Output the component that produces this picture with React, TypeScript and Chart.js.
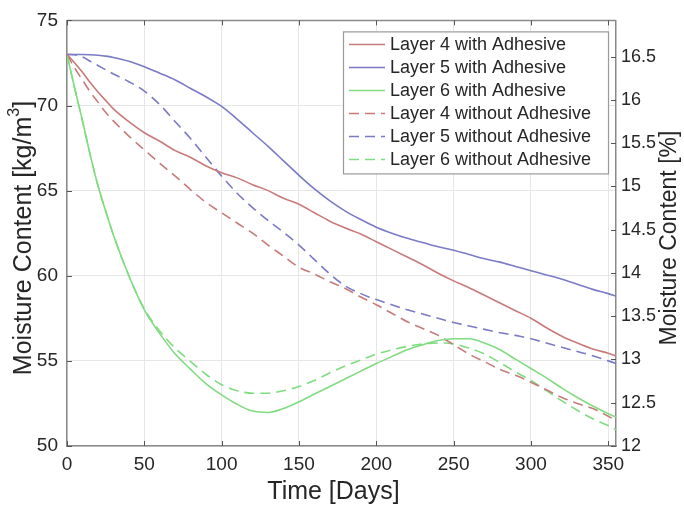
import React, { useEffect, useRef } from 'react';
import { Chart, registerables } from 'chart.js';

Chart.register(...registerables);

// ---- data ----
const days = [0, 5, 10, 15, 20, 25, 30, 40, 50, 60, 70, 80, 90, 100, 110, 120, 130, 140, 150, 160, 170, 180, 190, 200, 210, 220, 230, 240, 250, 260, 270, 280, 290, 300, 310, 320, 330, 340, 350, 355];

const layer4With = [73.0, 72.5, 71.95, 71.35, 70.8, 70.3, 69.8, 69.05, 68.4, 67.9, 67.35, 66.95, 66.45, 66.05, 65.75, 65.35, 65.0, 64.55, 64.2, 63.7, 63.2, 62.8, 62.45, 62.0, 61.55, 61.1, 60.65, 60.15, 59.7, 59.3, 58.85, 58.4, 57.95, 57.5, 56.95, 56.45, 56.05, 55.7, 55.45, 55.3];
const layer5With = [73.0, 73.0, 73.0, 72.98, 72.95, 72.9, 72.82, 72.6, 72.28, 71.9, 71.5, 71.0, 70.5, 69.95, 69.2, 68.4, 67.6, 66.75, 65.9, 65.1, 64.4, 63.8, 63.3, 62.85, 62.5, 62.2, 61.95, 61.7, 61.5, 61.25, 61.0, 60.8, 60.55, 60.3, 60.05, 59.8, 59.5, 59.2, 58.95, 58.8];
const layer6With = [73.0, 71.0, 69.1, 67.1, 65.3, 63.8, 62.4, 60.0, 58.0, 56.6, 55.4, 54.5, 53.65, 53.0, 52.45, 52.05, 51.97, 52.2, 52.6, 53.05, 53.5, 53.95, 54.4, 54.85, 55.25, 55.65, 55.95, 56.2, 56.3, 56.3, 56.05, 55.65, 55.1, 54.55, 54.0, 53.4, 52.85, 52.35, 51.9, 51.7];
const layer4Without = [73.0, 72.2, 71.5, 70.8, 70.2, 69.6, 69.1, 68.2, 67.4, 66.6, 65.85, 65.05, 64.3, 63.7, 63.1, 62.5, 61.8, 61.15, 60.5, 60.1, 59.65, 59.25, 58.75, 58.3, 57.8, 57.3, 56.9, 56.5, 55.95, 55.4, 54.95, 54.5, 54.15, 53.75, 53.3, 52.85, 52.5, 52.2, 51.75, 51.5];
const layer5Without = [73.0, 72.98, 72.85, 72.6, 72.35, 72.1, 71.85, 71.4, 70.85, 70.05, 69.05, 68.05, 66.95, 65.85, 64.85, 64.0, 63.25, 62.55, 61.8, 60.95, 60.1, 59.4, 58.95, 58.6, 58.3, 58.0, 57.75, 57.5, 57.25, 57.05, 56.85, 56.65, 56.5, 56.3, 56.05, 55.8, 55.55, 55.3, 55.0, 54.85];
const layer6Without = [73.0, 71.0, 69.1, 67.1, 65.3, 63.8, 62.4, 60.0, 58.05, 56.75, 55.75, 54.95, 54.2, 53.6, 53.25, 53.1, 53.1, 53.25, 53.5, 53.85, 54.3, 54.7, 55.05, 55.4, 55.65, 55.85, 56.0, 56.05, 56.0, 55.75, 55.4, 54.9, 54.35, 53.85, 53.25, 52.65, 52.1, 51.6, 51.2, 50.95];

const seriesLabels = [
  'Layer 4 with Adhesive',
  'Layer 5 with Adhesive',
  'Layer 6 with Adhesive',
  'Layer 4 without Adhesive',
  'Layer 5 without Adhesive',
  'Layer 6 without Adhesive',
];

const xTitle = 'Time [Days]';
const yLeftTitle = ['Moisture Content [kg/m', '3', ']'];
const yRightTitle = 'Moisture Content [%]';

// ---- style ----
const RED = '#c97a7a';
const BLUE = '#7a7ac6';
const GREEN = '#80dc80';
const AXIS = '#8a8a8a';
const GRID = '#e6e6e6';
const TEXT = '#262626';
const FONT = '"Liberation Sans", Arial, Helvetica, sans-serif';
const DASH = [10, 6];

const seriesValues = [layer4With, layer5With, layer6With, layer4Without, layer5Without, layer6Without];
const seriesColors = [RED, BLUE, GREEN, RED, BLUE, GREEN];
const seriesDashed = [false, false, false, true, true, true];

const decorPlugin = {
  id: 'decor',
  afterDatasetsDraw(chart: any) {
    const { ctx, chartArea: a } = chart;
    const xs = chart.scales.x;
    const ys = chart.scales.y;
    const y2 = chart.scales.y2;
    ctx.save();
    // top border
    ctx.strokeStyle = AXIS;
    ctx.lineWidth = 1.5;
    ctx.beginPath();
    ctx.moveTo(a.left, a.top);
    ctx.lineTo(a.right, a.top);
    ctx.stroke();
    // inward ticks
    ctx.strokeStyle = '#555';
    ctx.lineWidth = 1;
    const L = 5;
    ctx.beginPath();
    xs.ticks.forEach((t: any) => {
      const px = Math.round(xs.getPixelForValue(t.value)) + 0.5;
      ctx.moveTo(px, a.bottom);
      ctx.lineTo(px, a.bottom - L);
      ctx.moveTo(px, a.top);
      ctx.lineTo(px, a.top + L);
    });
    ys.ticks.forEach((t: any) => {
      const py = Math.round(ys.getPixelForValue(t.value)) + 0.5;
      ctx.moveTo(a.left, py);
      ctx.lineTo(a.left + L, py);
    });
    y2.ticks.forEach((t: any) => {
      const py = Math.round(y2.getPixelForValue(t.value)) + 0.5;
      ctx.moveTo(a.right, py);
      ctx.lineTo(a.right - L, py);
    });
    ctx.stroke();

    // legend box
    const bw = 265;
    const bh = 142;
    const bx = a.right - 8 - bw;
    const by = a.top + 11;
    ctx.fillStyle = '#ffffff';
    ctx.fillRect(bx, by, bw, bh);
    ctx.strokeStyle = '#9a9a9a';
    ctx.lineWidth = 1.2;
    ctx.strokeRect(bx + 0.5, by + 0.5, bw, bh);
    ctx.font = `18px ${FONT}`;
    ctx.textBaseline = 'middle';
    ctx.textAlign = 'left';
    chart.data.datasets.forEach((ds: any, i: number) => {
      const ry = by + 13 + i * 23;
      ctx.strokeStyle = ds.borderColor;
      ctx.lineWidth = 1.5;
      ctx.setLineDash(ds.borderDash || []);
      ctx.beginPath();
      ctx.moveTo(bx + 6, ry);
      ctx.lineTo(bx + 42, ry);
      ctx.stroke();
      ctx.setLineDash([]);
      ctx.fillStyle = TEXT;
      ctx.fillText(ds.label, bx + 47, ry + 1);
    });
    ctx.restore();
  },
  afterDraw(chart: any) {
    const { ctx, chartArea: a } = chart;
    ctx.save();
    ctx.fillStyle = TEXT;
    ctx.textBaseline = 'middle';
    const titleFont = `25px ${FONT}`;
    const supFont = `16px ${FONT}`;
    // x title
    ctx.font = titleFont;
    ctx.textAlign = 'center';
    ctx.fillText(xTitle, (a.left + a.right) / 2 - 8, 492);
    // left title with superscript
    ctx.save();
    ctx.translate(24, 238);
    ctx.rotate(-Math.PI / 2);
    ctx.textAlign = 'left';
    ctx.font = titleFont;
    const w0 = ctx.measureText(yLeftTitle[0]).width;
    const w2 = ctx.measureText(yLeftTitle[2]).width;
    ctx.font = supFont;
    const w1 = ctx.measureText(yLeftTitle[1]).width;
    let sx = -(w0 + w1 + w2) / 2;
    ctx.font = titleFont;
    ctx.fillText(yLeftTitle[0], sx, 0);
    sx += w0;
    ctx.font = supFont;
    ctx.fillText(yLeftTitle[1], sx, -9);
    sx += w1;
    ctx.font = titleFont;
    ctx.fillText(yLeftTitle[2], sx, 0);
    ctx.restore();
    // right title
    ctx.save();
    ctx.translate(670, 238);
    ctx.rotate(-Math.PI / 2);
    ctx.textAlign = 'center';
    ctx.font = `23px ${FONT}`;
    ctx.fillText(yRightTitle, 0, 0);
    ctx.restore();
    ctx.restore();
  },
};

export default function App() {
  const ref = useRef<HTMLCanvasElement | null>(null);
  useEffect(() => {
    if (!ref.current) return;
    const datasets = seriesLabels.map((label, i) => ({
      label,
      data: days.map((d, j) => ({ x: d, y: seriesValues[i][j] })),
      borderColor: seriesColors[i],
      backgroundColor: seriesColors[i],
      borderWidth: 1.6,
      borderDash: seriesDashed[i] ? DASH : [],
      pointRadius: 0,
      fill: false,
      cubicInterpolationMode: 'monotone' as const,
      yAxisID: 'y',
    }));
    const tickFont = { family: FONT, size: 19 };
    const fmt = (v: any) => `${+Number(v).toFixed(2)}`;
    const chart = new Chart(ref.current, {
      type: 'line',
      data: { datasets },
      plugins: [decorPlugin],
      options: {
        animation: false,
        responsive: false,
        maintainAspectRatio: false,
        layout: { padding: { top: 12, left: 0, right: 0, bottom: 0 } },
        plugins: { legend: { display: false }, tooltip: { enabled: false }, title: { display: false } },
        scales: {
          x: {
            type: 'linear',
            min: 0,
            max: 355,
            afterFit: (s: any) => { s.height = 62; },
            ticks: { stepSize: 50, includeBounds: false, color: TEXT, font: tickFont, padding: 7, maxRotation: 0, callback: fmt },
            grid: { color: GRID, drawTicks: false, lineWidth: 1 },
            border: { color: AXIS, width: 1.5 },
          },
          y: {
            type: 'linear',
            position: 'left',
            min: 50,
            max: 75,
            afterFit: (s: any) => { s.width = 67; },
            ticks: { stepSize: 5, includeBounds: false, color: TEXT, font: tickFont, padding: 9, callback: fmt },
            grid: { color: GRID, drawTicks: false, lineWidth: 1 },
            border: { color: AXIS, width: 1.5 },
          },
          y2: {
            type: 'linear',
            position: 'right',
            min: 12,
            max: 16.92,
            afterFit: (s: any) => { s.width = 68; },
            ticks: { stepSize: 0.5, includeBounds: false, color: TEXT, font: { family: FONT, size: 18 }, padding: 5, callback: fmt },
            grid: { display: false, drawTicks: false },
            border: { color: AXIS, width: 1.5 },
          },
        },
      },
    });
    return () => chart.destroy();
  }, []);
  return (
    <div style={{ position: 'absolute', left: 0, top: 0, width: 684, height: 508, background: '#fff' }}>
      <canvas ref={ref} width={684} height={508} style={{ display: 'block' }} />
    </div>
  );
}
